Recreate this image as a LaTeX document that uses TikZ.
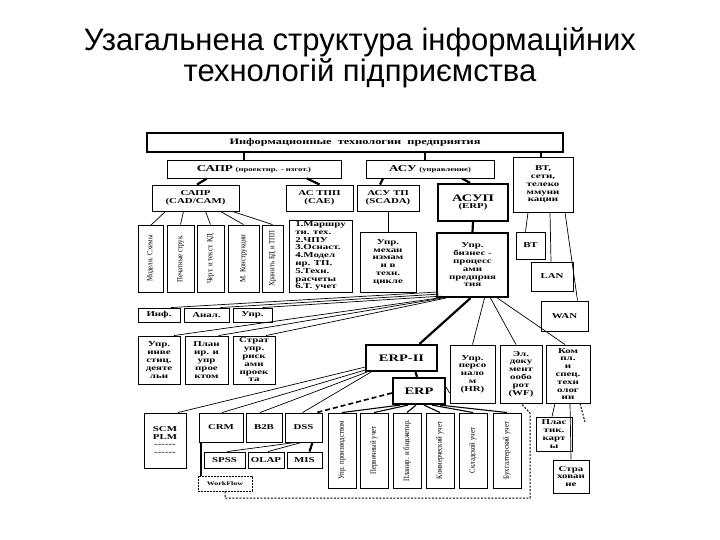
\documentclass[tikz,border=0pt]{standalone}
\usepackage{fontspec}
\setmainfont{Liberation Serif}
\newfontfamily\boxfont{Liberation Serif}[FakeStretch=1.45]
\newfontfamily\narrowfont{Liberation Serif}[FakeStretch=0.85]
\newfontfamily\titlefont{Liberation Sans}
\usetikzlibrary{calc}
\tikzset{
  box/.style={draw, line width=0.9pt, inner sep=0.5pt, align=center,
    font=\boxfont\bfseries\fontsize{7.5}{7.8}\selectfont},
  mainbox/.style={box, line width=2.2pt},
  listbox/.style={box, align=left},
  vbox/.style={draw, line width=0.9pt, inner sep=1pt, rotate=90,
    font=\narrowfont\fontsize{8}{9}\selectfont},
  flowbox/.style={box, dash pattern=on 2pt off 1pt, font=\boxfont\bfseries\fontsize{5.5}{6}\selectfont},
  link/.style={line width=0.7pt},
  boldlink/.style={line width=2.2pt},
  dashlink/.style={line width=1pt, dash pattern=on 2pt off 1.5pt},
  longdash/.style={line width=1.6pt, dash pattern=on 5pt off 3pt}
}
\newcommand{\bigword}[1]{{\fontsize{9}{10}\selectfont #1}}
\newcommand{\smallword}[1]{{\fontsize{6}{7}\selectfont #1}}
\begin{document}
\begin{tikzpicture}[x=1pt, y=-1pt]
  \useasboundingbox[fill=white] (0,0) rectangle (720,540);
  % title
  \node[font=\titlefont\fontsize{31}{31}\selectfont, align=center] (title) at (360,58)
    {Узагальнена структура інформаційних\\технологій підприємства};
  % upper levels
  \node[box, line width=1.4pt, minimum width=416, minimum height=19] (top) at (355,142.5)
    {\fontsize{8.5}{9}\selectfont Информационные\ \ технологии\ \ предприятия};
  \node[box, minimum width=174, minimum height=18] (sapr) at (254,169) {\bigword{САПР} \smallword{(проектир. - изгот.)}};
  \node[box, minimum width=128, minimum height=18] (asu) at (430,169) {\bigword{АСУ} \smallword{(управление)}};
  \node[box, minimum width=60, minimum height=55] (vt) at (543,184.5) {ВТ,\\сети,\\телеко\\ммуни\\кации};
  \node[box, minimum width=87, minimum height=26] (cadcam) at (195.5,198) {САПР\\(CAD/CAM)};
  \node[box, minimum width=67, minimum height=26] (astpp) at (319.5,198) {АС ТПП\\(CAE)};
  \node[box, minimum width=62, minimum height=26] (asutp) at (388,198) {АСУ ТП\\(SCADA)};
  \node[mainbox, minimum width=70, minimum height=37] (asup) at (473,202.5)
    {\fontsize{10}{12}\selectfont АСУП\\(ERP)};
  % CAD/CAM modules
  \node[vbox, minimum width=67, minimum height=25] (cad1) at (150.5,258.5) {Модели. Схемы};
  \node[vbox, minimum width=67, minimum height=27] (cad2) at (180.5,258.5) {Печатные струк.};
  \node[vbox, minimum width=67, minimum height=27] (cad3) at (210.5,258.5) {Черт. и текст. КД};
  \node[vbox, minimum width=67, minimum height=31] (cad4) at (243.5,258.5) {М. Конструкции};
  \node[vbox, minimum width=67, minimum height=21] (cad5) at (272.5,258.5) {Хранить БД и ТПП};
  \node[listbox, minimum width=63, minimum height=72] (tpplist) at (320.5,256)
    {1.Маршру\\ти. тех.\\2.ЧПУ\\3.Оснаст.\\4.Модел\\ир. ТП.\\5.Техн.\\расчеты\\6.Т. учет};
  \node[box, minimum width=56, minimum height=60] (mech) at (388,262) {Упр.\\механ\\измам\\и в\\техн.\\цикле};
  \node[mainbox, minimum width=71, minimum height=64] (biz) at (472.5,265)
    {Упр.\\бизнес -\\процесс\\ами\\предприя\\тия};
  \node[box, minimum width=29, minimum height=27, anchor=center] (bt) at (530.5,245.5) {ВТ};
  \node[box, minimum width=42, minimum height=29] (lan) at (552,276.5) {LAN};
  \node[box, minimum width=47, minimum height=30] (wan) at (564.5,316) {WAN};
  % management functions
  \node[box, minimum width=42, minimum height=14] (inf) at (159,315) {Инф.};
  \node[box, minimum width=45, minimum height=14] (anal) at (206.5,315) {Анал.};
  \node[box, minimum width=39, minimum height=14] (upr) at (252.5,315) {Упр.};
  \node[box, minimum width=42, minimum height=48] (invest) at (159,360) {Упр.\\инве\\стиц.\\деяте\\льн};
  \node[box, minimum width=43, minimum height=48] (plan) at (206.5,360) {План\\ир. и\\упр\\прое\\ктом};
  \node[box, minimum width=42, minimum height=48] (strat) at (254,360) {Страт\\упр.\\риск\\ами\\проек\\та};
  % ERP branch
  \node[mainbox, minimum width=71, minimum height=26] (erptwo) at (401.5,358) {\fontsize{10}{12}\selectfont ERP-II};
  \node[box, minimum width=45, minimum height=58] (hr) at (472.5,374) {Упр.\\персо\\нало\\м\\(HR)};
  \node[box, minimum width=42, minimum height=58] (wf) at (521,374) {Эл.\\доку\\мент\\ообо\\рот\\(WF)};
  \node[box, minimum width=44, minimum height=58] (kompl) at (568,374) {Ком\\пл.\\и\\спец.\\техн\\олог\\ии};
  \node[mainbox, minimum width=52, minimum height=26] (erp) at (419,391) {\fontsize{10}{12}\selectfont ERP};
  \node[box, minimum width=42, minimum height=55] (scm) at (165,440.5) {SCM\\PLM\\------\\------};
  \node[box, minimum width=44, minimum height=29] (crm) at (221,427.5) {CRM};
  \node[box, minimum width=36, minimum height=29] (btb) at (264,427.5) {B2B};
  \node[box, minimum width=37, minimum height=29] (dss) at (303.5,427.5) {DSS};
  \node[box, minimum width=41, minimum height=16] (spss) at (224.5,460) {SPSS};
  \node[box, minimum width=36, minimum height=16] (olap) at (266,460) {OLAP};
  \node[box, minimum width=35, minimum height=16] (mis) at (304.5,460) {MIS};
  \node[flowbox, minimum width=54, minimum height=15] (workflow) at (225,483.5) {WorkFlow};
  \node[vbox, minimum width=75, minimum height=28] (erp1) at (342,450.5) {Упр. производством};
  \node[vbox, minimum width=75, minimum height=28] (erp2) at (374,450.5) {Первичный учет};
  \node[vbox, minimum width=75, minimum height=28] (erp3) at (407,450.5) {Планир. и бюджетир.};
  \node[vbox, minimum width=75, minimum height=28] (erp4) at (440,450.5) {Коммерческий учет};
  \node[vbox, minimum width=75, minimum height=28] (erp5) at (473,450.5) {Складской учет};
  \node[vbox, minimum width=75, minimum height=28] (erp6) at (507,450.5) {Бухгалтерский учет};
  \node[box, minimum width=36, minimum height=34] (plast) at (554,434) {Плас\\тик.\\карт\\ы};
  \node[box, minimum width=36, minimum height=33] (strah) at (571,476.5) {Стра\\хован\\ие};
  \coordinate (flowbend) at (530,498);
  \coordinate (flowknee) at (530,413);
  \coordinate (komplend) at (585,422);
  % connectors of the upper levels
  \draw[boldlink] ([xshift=-10]sapr.north) -- ([xshift=-10]sapr.north |- top.south);
  \draw[boldlink] ([xshift=-5]asu.north) -- ([xshift=-5]asu.north |- top.south);
  \draw[boldlink] ([xshift=-2]vt.north) -- ([xshift=-2]vt.north |- top.south);
  \draw[boldlink] ([xshift=-47]sapr.south) -- ([xshift=1.5]cadcam.north);
  \draw[boldlink] ([xshift=53]sapr.south) -- (astpp.north);
  \draw[boldlink] ([xshift=-47]asu.south) -- ([xshift=-8]asutp.north);
  \draw[boldlink] ([xshift=32]asu.south) -- ([xshift=-3]asup.north);
  \draw[link] ([xshift=-30]cadcam.south) -- ([yshift=-1]cad1.east);
  \draw[link] ([xshift=-12]cadcam.south) -- (cad2.east);
  \draw[link] ([xshift=10]cadcam.south) -- (cad3.east);
  \draw[link] ([xshift=25]cadcam.south) -- (cad4.east);
  \draw[link] ([xshift=37]cadcam.south) -- (cad5.east);
  \draw[link] (asutp.south) -- (mech.north);
  \draw[boldlink] (asup.south) -- (biz.north);
  \draw[link] ([xshift=-15]vt.south) -- ([xshift=-5]bt.north);
  \draw[link] ([xshift=7]vt.south) -- ([xshift=-1]lan.north);
  \draw[link] ([xshift=22]vt.south) -- ([xshift=13]wan.north);
  % connectors of the business processes
  \draw[link] ([yshift=6]biz.south west) -- ([xshift=12]inf.north);
  \draw[link] ([xshift=3,yshift=4]biz.south west) -- ([xshift=14]anal.north);
  \draw[link] ([xshift=6,yshift=2]biz.south west) -- ([xshift=10]upr.north);
  \draw[link] ([xshift=2]biz.south west) -- ([xshift=15]invest.north);
  \draw[link] ([xshift=6]biz.south west) -- ([xshift=12]plan.north);
  \draw[link] ([xshift=10]biz.south west) -- ([xshift=12]strat.north);
  \draw[boldlink] ([xshift=-2]biz.south) -- ([xshift=18]erptwo.north);
  \draw[link] ([xshift=12]biz.south) -- (hr.north);
  \draw[link] ([xshift=18]biz.south) -- ([xshift=-5]wf.north);
  \draw[link] ([xshift=25]biz.south) -- ([xshift=-3]kompl.north);
  % connectors of ERP-II and ERP
  \draw[boldlink] ([xshift=14]erptwo.south) -- ([xshift=-2]erp.north);
  \draw[link] ([yshift=4]erp.east) -- ([yshift=-19]hr.west);
  \draw[link] ([yshift=5]erptwo.south west) -- ([xshift=13]scm.north);
  \draw[link] ([yshift=2]erptwo.south west) -- ([xshift=1]crm.north);
  \draw[link] ([xshift=2]erptwo.south west) -- ([xshift=-4]btb.north);
  \draw[link] ([xshift=6]erptwo.south west) -- ([xshift=-1]dss.north);
  \draw[longdash] ([yshift=-2]erp.west) -- ([xshift=13]dss.north);
  \draw[link, line width=1.1pt] ([xshift=-19]erp.south) -- (erp1.east);
  \draw[link, line width=1.1pt] ([xshift=-11]erp.south) -- (erp2.east);
  \draw[link, line width=1.1pt] ([xshift=-3]erp.south) -- (erp3.east);
  \draw[link, line width=1.1pt] ([xshift=5]erp.south) -- (erp4.east);
  \draw[link, line width=1.1pt] ([xshift=13]erp.south) -- (erp5.east);
  \draw[link, line width=1.1pt] ([xshift=21]erp.south) -- (erp6.east);
  \draw[link] ([xshift=-8]dss.south) -- ([xshift=3]spss.north);
  \draw[link] ([xshift=-2]dss.south) -- ([xshift=2]olap.north);
  \draw[boldlink] ([xshift=9]dss.south) -- ([xshift=5]mis.north);
  \draw[link, line width=1.1pt] ([xshift=-20]crm.south) -- ([xshift=-20]crm.south |- workflow.north);
  \draw[dashlink] (workflow.south) |- (flowbend) -- (flowknee) -- (wf.south);
  \draw[link] ([xshift=-13]kompl.south) -- ([xshift=-2]plast.north);
  \draw[link] ([xshift=2]kompl.south) -- (strah.north);
  \draw[dashlink] ([xshift=12]kompl.south) -- (komplend);
\end{tikzpicture}
\end{document}
